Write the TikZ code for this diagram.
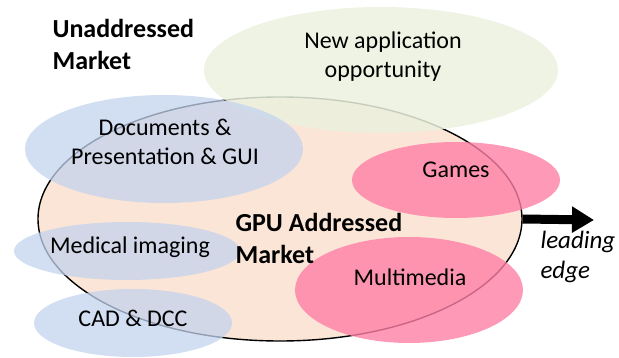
\documentclass[tikz,border=0pt]{standalone}
\usepackage{fontspec}
\setmainfont{Carlito}
\usetikzlibrary{positioning, arrows.meta, shapes.geometric}

\definecolor{peach}{HTML}{FBE5D6}
\definecolor{sage}{HTML}{EBF1DE}
\definecolor{skyblue}{HTML}{C3D3EE}
\definecolor{rose}{HTML}{FF7FA6}

\tikzset{
  market/.style={ellipse, inner sep=0pt, fill=peach, draw=black, line width=1.4pt},
  newapp/.style={ellipse, inner sep=0pt, fill=sage, fill opacity=0.85},
  legacy/.style={ellipse, inner sep=0pt, fill=skyblue, fill opacity=0.75},
  hot/.style={ellipse, inner sep=0pt, fill=rose, fill opacity=0.8},
  lbl/.style={font=\fontsize{24}{29}\selectfont, align=center, text=black},
  bold lbl/.style={font=\fontsize{26}{32}\selectfont\bfseries, align=left, text=black},
}

\begin{document}
\begin{tikzpicture}[x=1pt, y=-1pt]
  \useasboundingbox (0,0) rectangle (619,358);
  % the market itself
  \node[market, minimum width=484pt, minimum height=244pt] (gpu) at (280,219) {};
  % segments laid over it
  \node[newapp, minimum width=354pt, minimum height=126pt] (newapp) at (381,70) {};
  \node[legacy, minimum width=278pt, minimum height=108pt] (docs) at (164,149) {};
  \node[legacy, minimum width=226pt, minimum height=58pt] (med) at (127,251) {};
  \node[legacy, minimum width=198pt, minimum height=68pt] (cad) at (133,323) {};
  \node[hot, minimum width=208pt, minimum height=76pt] (games) at (456,180) {};
  \node[hot, minimum width=228pt, minimum height=106pt] (multi) at (409,290) {};

  \coordinate (tip) at (594,220);
  \draw[-{Triangle[length=22pt, width=25pt]}, line width=9pt] (gpu.east) -- (tip);

  % texts
  \node[bold lbl, anchor=west] (unadd) at (49,44) {Unaddressed\\Market};
  \node[bold lbl, anchor=west] (gputxt) at (232,238) {GPU Addressed\\Market};
  \node[lbl] (newtxt) at (383,57) {New application\\opportunity};
  \node[lbl] (docstxt) at (165,142) {Documents \&\\Presentation \& GUI};
  \node[lbl] (medtxt) at (130,247) {Medical imaging};
  \node[lbl] (cadtxt) at (133,318) {CAD \& DCC};
  \node[lbl] (gamestxt) at (456,170) {Games};
  \node[lbl] (multitxt) at (410,277) {Multimedia};
  \node[lbl, font=\fontsize{25}{30}\selectfont\itshape, align=left, anchor=west] (edge) at (537,257) {leading\\edge};
\end{tikzpicture}
\end{document}
